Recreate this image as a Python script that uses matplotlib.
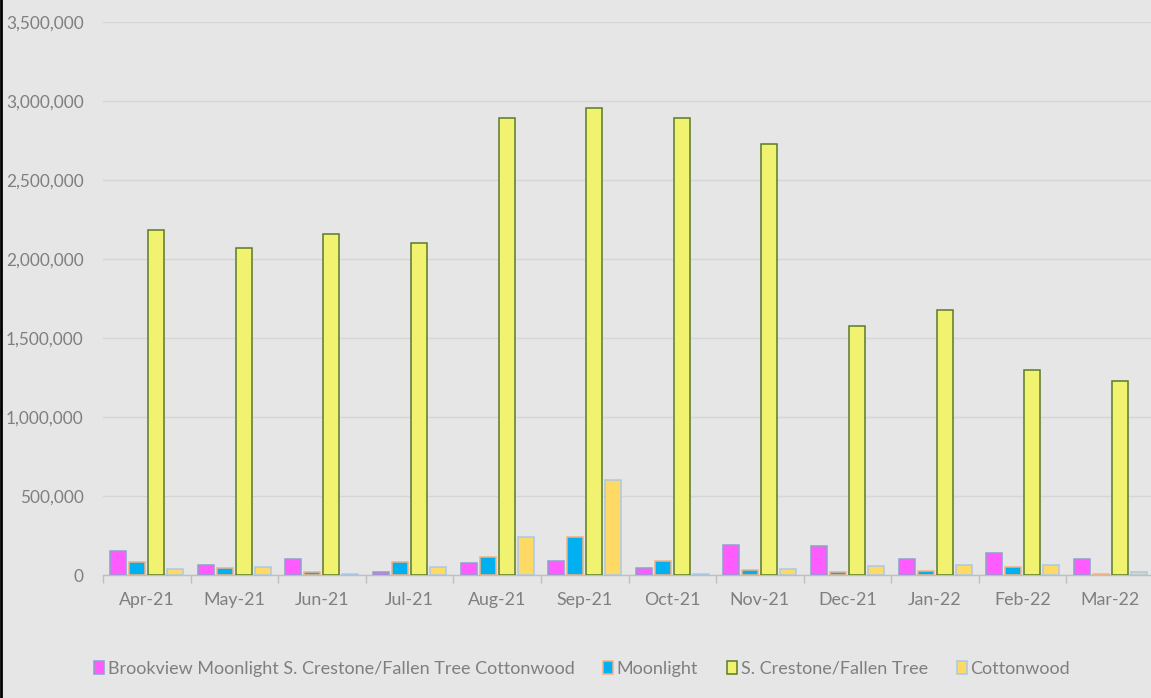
import matplotlib
matplotlib.use("Agg")
import matplotlib.pyplot as plt
import numpy as np
from matplotlib.ticker import FuncFormatter, MultipleLocator
from matplotlib.lines import Line2D

months = ["Apr-21", "May-21", "Jun-21", "Jul-21", "Aug-21", "Sep-21",
          "Oct-21", "Nov-21", "Dec-21", "Jan-22", "Feb-22", "Mar-22"]
brookview = [154000, 61000, 101000, 17000, 76000, 91000, 42000, 188000, 182000, 101000, 137000, 101000]
moonlight = [80000, 42000, 21000, 80000, 114000, 239000, 89000, 30000, 17000, 23000, 49000, 4000]
crestone = [2185000, 2070000, 2160000, 2100000, 2890000, 2955000, 2890000, 2730000, 1575000, 1680000, 1300000, 1230000]
cottonwood = [36000, 49000, 4000, 49000, 239000, 601000, 8000, 36000, 55000, 61000, 61000, 17000]

series_names = ["Brookview Moonlight S. Crestone/Fallen Tree Cottonwood", "Moonlight",
                "S. Crestone/Fallen Tree", "Cottonwood"]
series_vals = [brookview, moonlight, crestone, cottonwood]
faces = ["#ff5cff", "#00b0f0", "#f0f270", "#ffd966"]
edges = ["#8fa0c8", "#f4b183", "#5a7a2a", "#a9c8e8"]

plt.rcParams['font.family'] = ['Lato', 'DejaVu Sans']
bg = "#e6e6e6"
fig = plt.figure(figsize=(11.51, 6.98), dpi=100, facecolor=bg)
ax = fig.add_axes([103/1151, 1-575/698, 1051/1151, (575-22)/698])
ax.set_facecolor(bg)

x = np.arange(len(months))
slot = 0.217
width = 0.183
handles = []
for i, (vals, fc, ec, name) in enumerate(zip(series_vals, faces, edges, series_names)):
    off = (i - 1.5) * slot
    ax.bar(x + off, vals, width=width, color=fc, edgecolor=ec, linewidth=1.1, zorder=3)
    handles.append(plt.Rectangle((0, 0), 1, 1, facecolor=fc, edgecolor=ec, linewidth=1.1))

ax.set_xlim(-0.5, len(months) - 0.5)
ax.set_ylim(0, 3500000)
ax.yaxis.set_major_locator(MultipleLocator(500000))
ax.yaxis.set_major_formatter(FuncFormatter(lambda v, p: f"{int(v):,}"))
ax.grid(axis='y', color="#d6d6d6", linewidth=1, zorder=0)
for s in ["top", "right", "left"]:
    ax.spines[s].set_visible(False)
ax.spines["bottom"].set_color("#bfbfbf")
ax.spines["bottom"].set_linewidth(1)

ax.set_xticks(x)
ax.set_xticklabels(months)
ax.set_xticks(np.arange(-0.5, len(months)), minor=True)
ax.tick_params(axis='x', which='major', length=0, pad=12, labelsize=12.8, labelcolor="#7f7f7f")
ax.tick_params(axis='x', which='minor', length=6, color="#bfbfbf", width=1)
ax.tick_params(axis='y', length=0, labelsize=12.4, labelcolor="#7f7f7f", pad=14)

leg = fig.legend(handles, series_names, loc='center', bbox_to_anchor=(582/1151, 1-669/698),
                 ncol=4, frameon=False, fontsize=13, labelcolor="#7f7f7f",
                 handlelength=0.55, handleheight=0.7, handletextpad=0.2, columnspacing=1.6)

fig.add_artist(Line2D([1/1151, 1/1151], [0, 1], transform=fig.transFigure, color="black", linewidth=2))

fig.savefig("out.png", dpi=100, facecolor=bg)
